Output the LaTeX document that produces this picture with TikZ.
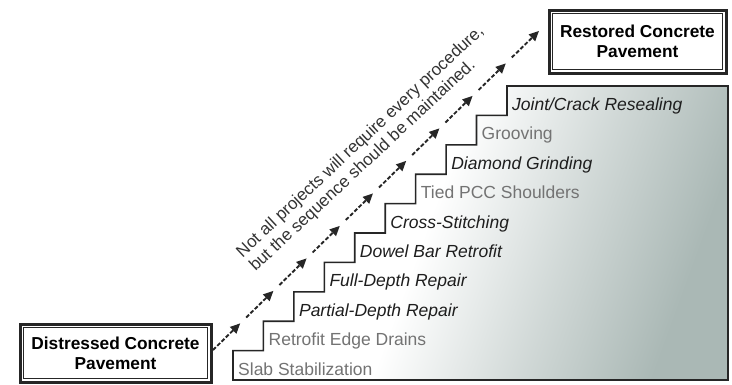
\documentclass[tikz,border=0pt]{standalone}
\usepackage{fontspec}
\setmainfont{Liberation Sans}
\usetikzlibrary{arrows.meta,positioning,calc}
\definecolor{stairgray}{RGB}{170,184,181}
\definecolor{labelgray}{RGB}{115,115,115}
\definecolor{labeldark}{RGB}{30,30,30}
\pgfdeclarehorizontalshading{stairshade}{100bp}{color(0bp)=(white); color(44bp)=(white); color(60bp)=(stairgray!55); color(74bp)=(stairgray); color(100bp)=(stairgray)}

\begin{document}
\begin{tikzpicture}[
  x=1pt, y=-1pt,
  font=\fontsize{17.5}{20}\selectfont,
  pavebox/.style={draw=black!85, line width=3pt, align=center, inner sep=0pt, font=\fontsize{17.3}{20}\selectfont\bfseries},
  stepdark/.style={anchor=base west, inner sep=0pt, text=labeldark, font=\fontsize{17.5}{20}\selectfont\itshape},
  steplight/.style={anchor=base west, inner sep=0pt, text=labelgray},
  arr/.style={-{Triangle[length=10pt,width=9pt]}, line width=1.9pt, dash pattern=on 4pt off 2pt, black!85}
]
\useasboundingbox (0,0) rectangle (732,384);

% staircase
\draw[line width=1.6pt, black!85, shading=stairshade, shading angle=-20]
  (233,380) \foreach \i in {1,...,9}{ -- ++(0,-29.4) -- ++(30.44,0) }
  -- ++(0,-29.4) -- (728,86) -- (728,380) -- cycle;

\foreach \name/\txt/\sty [count=\i from 0] in {
    slab/Slab Stabilization/steplight,
    drains/Retrofit Edge Drains/steplight,
    partial/Partial-Depth Repair/stepdark,
    full/Full-Depth Repair/stepdark,
    dowel/Dowel Bar Retrofit/stepdark,
    stitch/Cross-Stitching/stepdark,
    shoulders/Tied PCC Shoulders/steplight,
    grinding/Diamond Grinding/stepdark,
    grooving/Grooving/steplight,
    reseal/{Joint/Crack Resealing}/stepdark}
  \node[\sty] (\name) at ({238+30.44*\i}, {375-29.4*\i}) {\txt};

% end boxes
\node[pavebox, minimum width=191pt, minimum height=58pt] (distressed) at (115.5,353) {Distressed Concrete\\Pavement};
\node[pavebox, minimum width=177pt, minimum height=63pt] (restored) at (637.5,41.5) {Restored Concrete\\Pavement};
\draw[black!85, line width=0.8pt] ([xshift=5pt,yshift=-5pt]distressed.north west) rectangle ([xshift=-5pt,yshift=5pt]distressed.south east);
\draw[black!85, line width=0.8pt] ([xshift=5pt,yshift=-5pt]restored.north west) rectangle ([xshift=-5pt,yshift=5pt]restored.south east);

% dashed arrows up the stairs
\coordinate (a0) at (213,350);
\coordinate (a1) at (545,25);
\foreach \i in {0,...,9}{
  \coordinate (t\i) at ($(a0)!{\i/10}!(a1)$);
  \coordinate (h\i) at ($(a0)!{(\i+0.82)/10}!(a1)$);
  \draw[arr] (t\i) -- (h\i);
}

\node[rotate=43, align=left, text=black!80, inner sep=0pt, font=\fontsize{17}{19}\selectfont] (note) at (367,149)
  {Not all projects will require every procedure,\\but the sequence should be maintained.};
\end{tikzpicture}
\end{document}
